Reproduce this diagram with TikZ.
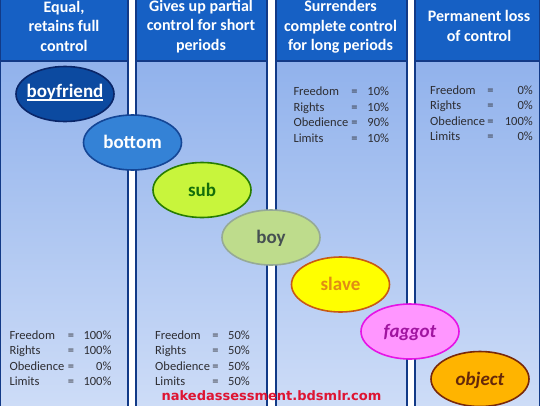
\documentclass[tikz,border=0pt]{standalone}
\usepackage{fontspec}
\setmainfont{Carlito}
\newfontfamily\wmfont{DejaVu Sans}
\usetikzlibrary{shapes.geometric}
\definecolor{hdr}{RGB}{22,96,196}
\definecolor{edge}{RGB}{18,58,135}
\definecolor{bodytop}{RGB}{145,178,236}
\definecolor{bodybot}{RGB}{205,220,247}
\definecolor{stattxt}{RGB}{45,45,50}
\definecolor{bfF}{RGB}{12,74,160}\definecolor{bfD}{RGB}{10,38,105}
\definecolor{btF}{RGB}{52,130,214}\definecolor{btD}{RGB}{20,70,150}
\definecolor{sbF}{RGB}{200,245,60}\definecolor{sbD}{RGB}{40,125,0}\definecolor{sbT}{RGB}{20,110,10}
\definecolor{byF}{RGB}{190,220,140}\definecolor{byD}{RGB}{150,170,150}\definecolor{byT}{RGB}{70,80,82}
\definecolor{slF}{RGB}{255,255,0}\definecolor{slD}{RGB}{200,90,20}\definecolor{slT}{RGB}{225,140,20}
\definecolor{fgF}{RGB}{255,150,255}\definecolor{fgD}{RGB}{230,20,230}\definecolor{fgT}{RGB}{160,20,160}
\definecolor{obF}{RGB}{255,180,0}\definecolor{obD}{RGB}{120,40,10}\definecolor{obT}{RGB}{100,40,10}
\definecolor{wm}{RGB}{222,20,50}
\newcommand\ctr[1]{\makebox[0pt]{#1}}
\newcommand\myul[1]{\setbox0\hbox{#1}\rlap{\rule[-3pt]{\wd0}{1.1pt}}\box0}
\begin{document}
\begin{tikzpicture}[x=1pt,y=-1pt,
  hdrtxt/.style={text=white, inner sep=0pt, anchor=base, font=\fontsize{16}{19}\selectfont\bfseries},
  stat/.style={text=stattxt, inner sep=0pt, font=\fontsize{12.5}{15}\selectfont},
  bub/.style={ellipse, minimum width=98pt, minimum height=55pt, inner sep=0pt, line width=1.6pt,
    font=\fontsize{19}{22}\selectfont\bfseries, text height=12pt, text depth=0pt}]
\useasboundingbox (0,0) rectangle (540,405);
\fill[white] (0,0) rectangle (540,405);
% panels
\foreach \a/\b in {0/128,136/267,276/407,415/540}{
  \shade[top color=bodytop, bottom color=bodybot] (\a,61) rectangle (\b,405);
  \fill[hdr] (\a,0) rectangle (\b,61);
  \draw[edge, line width=1.7pt] (\a,-2) rectangle (\b,407);
  \draw[edge, line width=1.3pt] (\a,61) -- (\b,61);
}
% headers
\node[hdrtxt] (h1a) at (64,12) {Equal,};
\node[hdrtxt] (h1b) at (64,31.5) {retains full};
\node[hdrtxt] (h1c) at (64,51) {control};
\node[hdrtxt] (h2a) at (201,11) {Gives up partial};
\node[hdrtxt] (h2b) at (201,30.5) {control for short};
\node[hdrtxt] (h2c) at (201,50) {periods};
\node[hdrtxt] (h3a) at (340.5,11.7) {Surrenders};
\node[hdrtxt] (h3b) at (340.5,31.2) {complete control};
\node[hdrtxt] (h3c) at (340.5,50.5) {for long periods};
\node[hdrtxt] (h4a) at (479,21.7) {Permanent loss};
\node[hdrtxt] (h4b) at (479,41) {of control};
% stats
\foreach \lab/\val [count=\i] in {Freedom/100\%,Rights/100\%,Obedience/0\%,Limits/100\%}{
  \node[stat, anchor=base west] (s1l\i) at (9.3,{339+15.6*(\i-1)}) {\lab};
  \node[stat, anchor=base] (s1e\i) at (71,{339+15.6*(\i-1)}) {=};
  \node[stat, anchor=base east] (s1v\i) at (111.7,{339+15.6*(\i-1)}) {\val};
}
\foreach \lab/\val [count=\i] in {Freedom/50\%,Rights/50\%,Obedience/50\%,Limits/50\%}{
  \node[stat, anchor=base west] (s2l\i) at (155,{339+15.6*(\i-1)}) {\lab};
  \node[stat, anchor=base] (s2e\i) at (215.5,{339+15.6*(\i-1)}) {=};
  \node[stat, anchor=base east] (s2v\i) at (250,{339+15.6*(\i-1)}) {\val};
}
\foreach \lab/\val [count=\i] in {Freedom/10\%,Rights/10\%,Obedience/90\%,Limits/10\%}{
  \node[stat, anchor=base west] (s3l\i) at (293.3,{95.7+15.5*(\i-1)}) {\lab};
  \node[stat, anchor=base] (s3e\i) at (354.5,{95.7+15.5*(\i-1)}) {=};
  \node[stat, anchor=base east] (s3v\i) at (389.3,{95.7+15.5*(\i-1)}) {\val};
}
\foreach \lab/\val [count=\i] in {Freedom/0\%,Rights/0\%,Obedience/100\%,Limits/0\%}{
  \node[stat, anchor=base west] (s4l\i) at (430,{94+15.5*(\i-1)}) {\lab};
  \node[stat, anchor=base] (s4e\i) at (490.5,{94+15.5*(\i-1)}) {=};
  \node[stat, anchor=base east] (s4v\i) at (533,{94+15.5*(\i-1)}) {\val};
}
% bubbles
\node[bub, fill=bfF, draw=bfD, text=white, text depth=5pt] (boyfriend) at (65,94) {\ctr{\myul{boyfriend}}};
\node[bub, fill=btF, draw=btD, text=white] (bottom) at (132.5,142.5) {\ctr{bottom}};
\node[bub, fill=sbF, draw=sbD, text=sbT] (sub) at (202,190) {\ctr{sub}};
\node[bub, fill=byF, draw=byD, text=byT] (boy) at (271,237.5) {\ctr{boy}};
\node[bub, fill=slF, draw=slD, text=slT] (slave) at (340.5,284.5) {\ctr{slave}};
\node[bub, fill=fgF, draw=fgD, text=fgT] (faggot) at (410,331.5) {\ctr{\itshape faggot}};
\node[bub, fill=obF, draw=obD, text=obT] (object) at (480,379) {\ctr{\itshape object}};
% watermark
\node[inner sep=0pt, anchor=base, text=wm, font={\fontsize{13}{15}\selectfont\wmfont\bfseries}] (wmark) at (271.5,400) {nakedassessment.bdsmlr.com};
\end{tikzpicture}
\end{document}
